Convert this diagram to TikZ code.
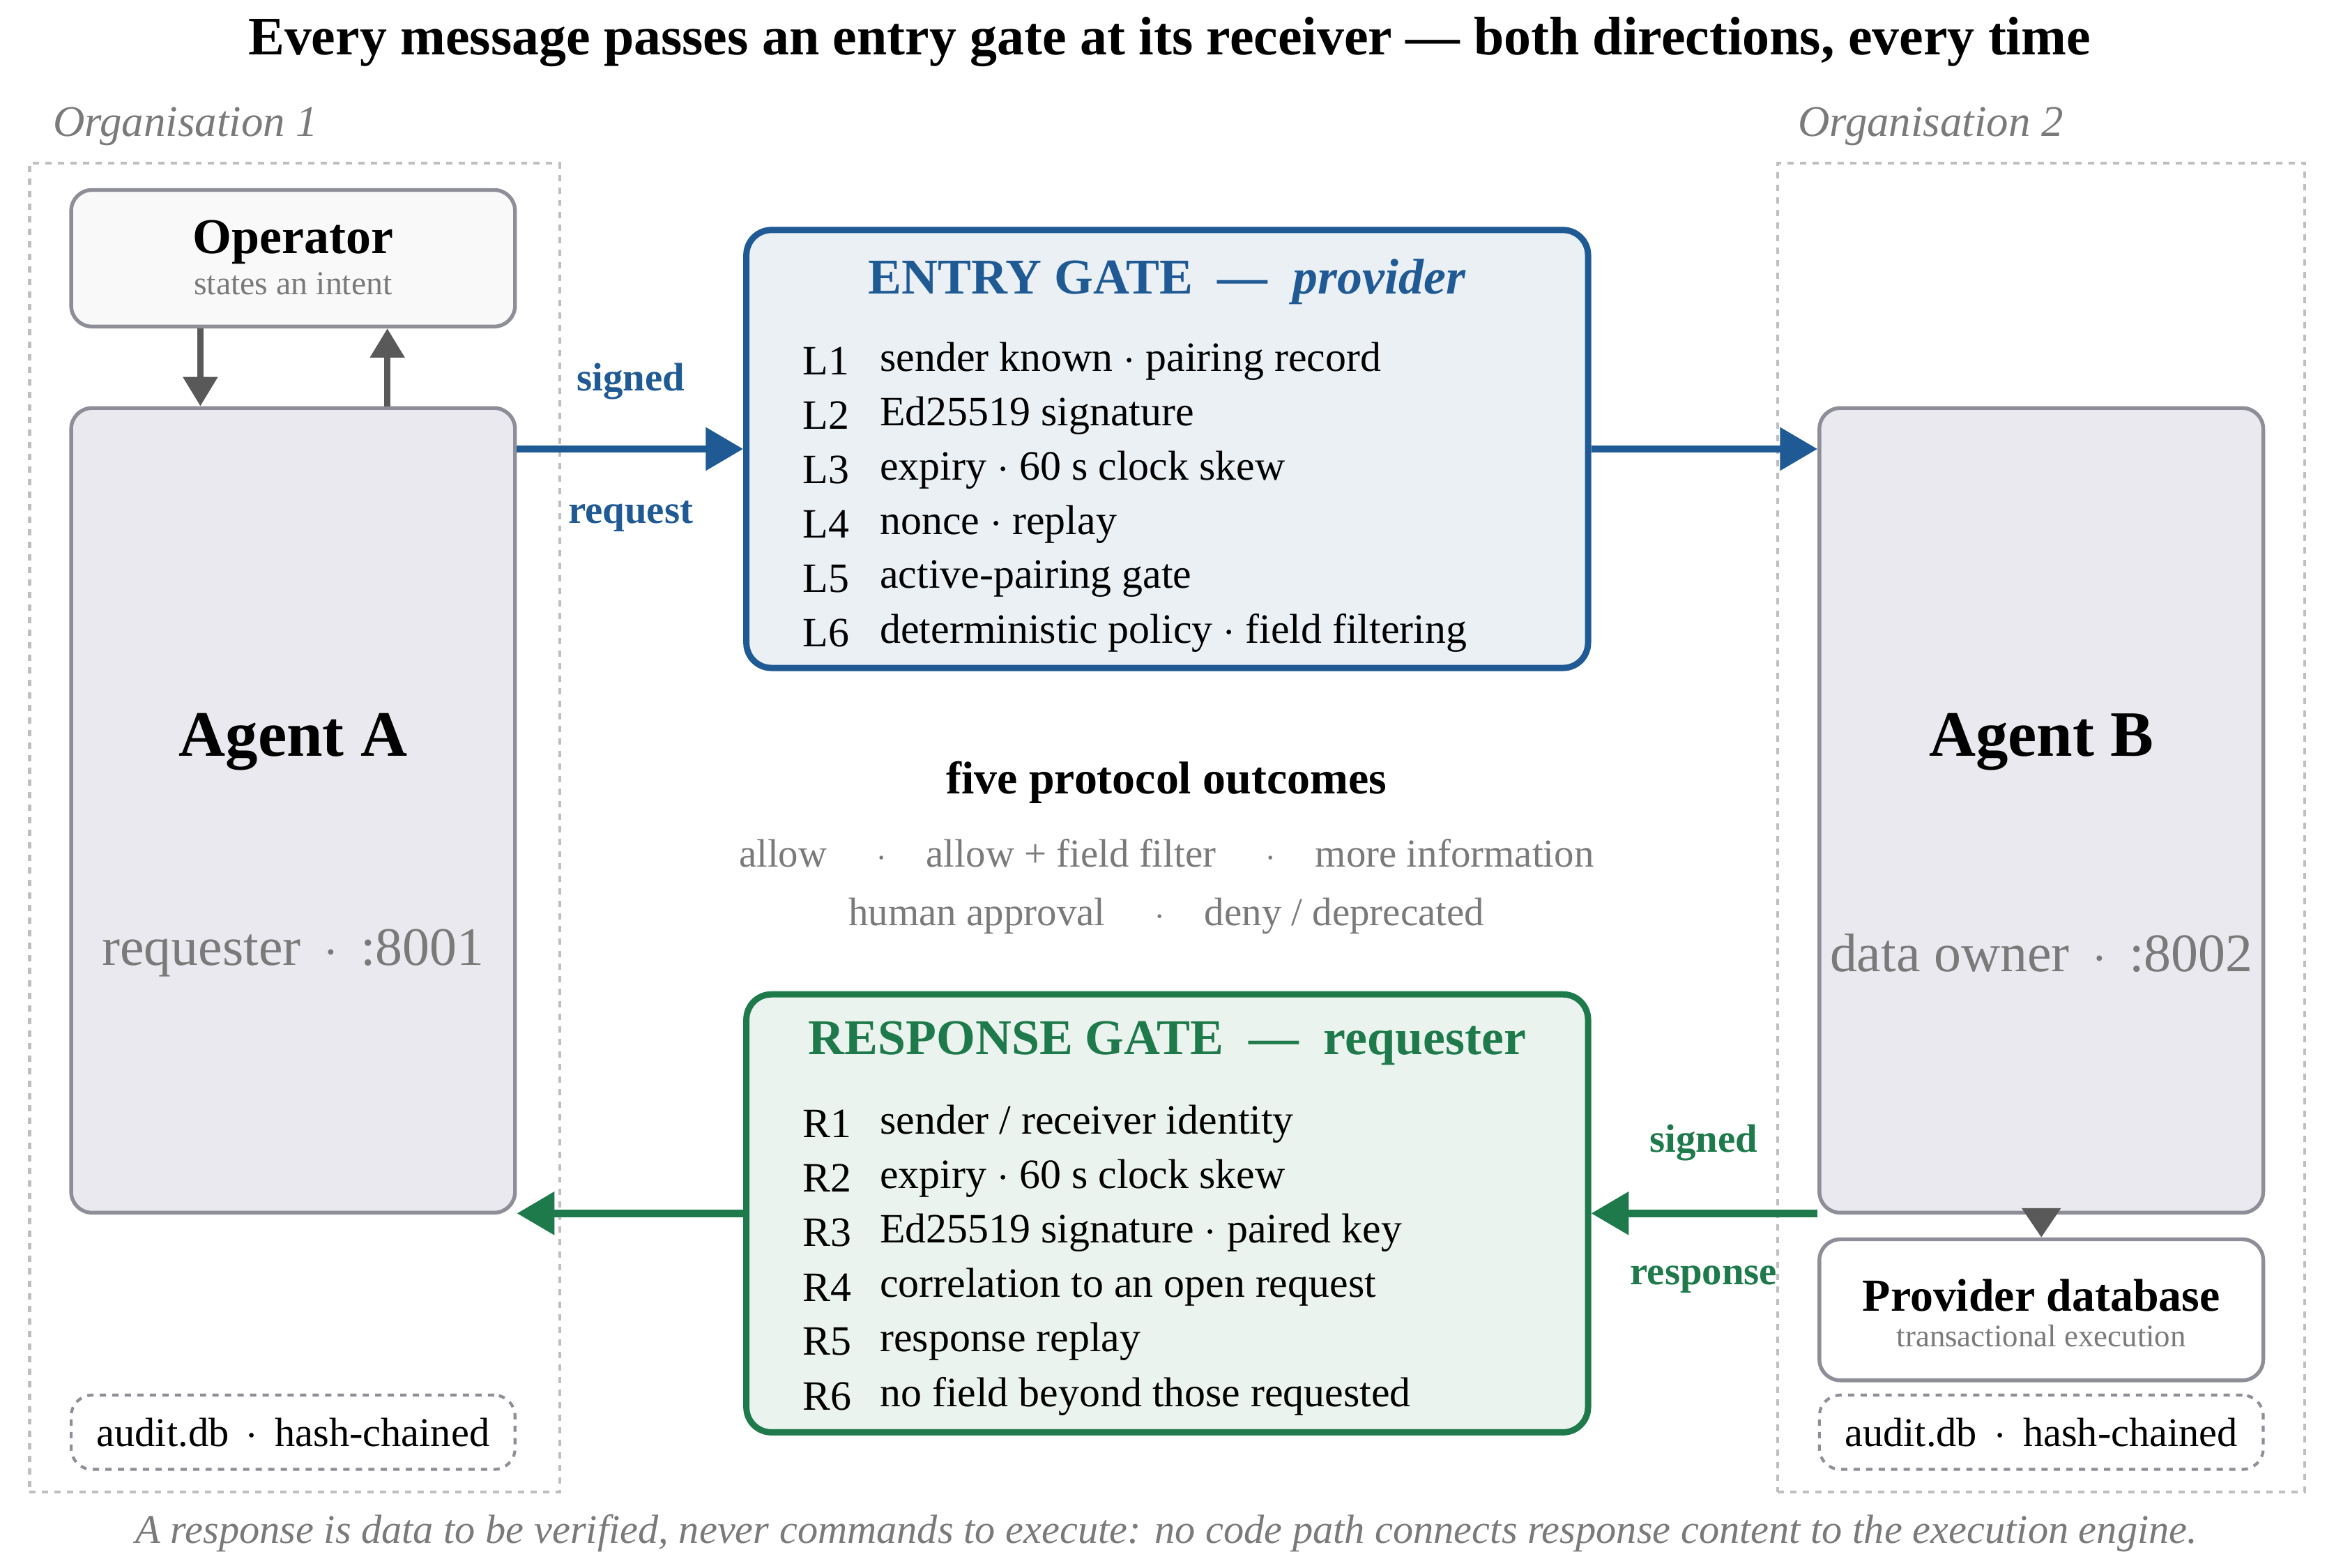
\documentclass[tikz,border=0pt]{standalone}
\usepackage{fontspec}
\setmainfont{Liberation Serif}
\usetikzlibrary{arrows.meta}

\definecolor{gateblue}{HTML}{1F5A94}
\definecolor{gategreen}{HTML}{1E7A4B}
\definecolor{boxgray}{HTML}{8E8E98}
\definecolor{agentfill}{HTML}{E9E9EF}
\definecolor{txtgray}{HTML}{7A7A7A}
\newcommand{\fs}[1]{\fontsize{#1}{#1}\selectfont}

\tikzset{
  agent/.style={draw=boxgray, line width=1.8pt, rounded corners=10pt, fill=agentfill},
  small/.style={draw=boxgray, line width=1.8pt, rounded corners=10pt, fill=gray!5},
  audit/.style={draw=boxgray, dashed, line width=1.4pt, rounded corners=10pt,
    minimum width=7.475cm, minimum height=1.25cm, font=\fs{19.5}},
  org/.style={draw=gray!50, dashed, line width=1.4pt},
  gate/.style={line width=3pt, rounded corners=12pt, minimum width=14.175cm, minimum height=7.375cm},
  flow/.style={line width=3.5pt, -{Triangle[length=18pt,width=20pt]}},
  lbl/.style={font=\fs{20}, anchor=west}
}

\begin{document}
\begin{tikzpicture}[x=0.025cm, y=-0.025cm]
	\useasboundingbox (0,0) rectangle (1568,1056);
	\node[font=\bfseries\fs{26}] (title) at (788,28) {Every message passes an entry gate at its receiver --- both directions, every time};
	% organisations
	\node[org, minimum width=8.925cm, minimum height=22.375cm] (org1) at (198.5,557.5) {};
	\node[org, minimum width=8.875cm, minimum height=22.375cm] (org2) at (1375.5,557.5) {};
	\node[font=\itshape\fs{21}, text=txtgray] (org1lbl) at (125,85) {Organisation 1};
	\node[font=\itshape\fs{21}, text=txtgray] (org2lbl) at (1301,85) {Organisation 2};
	% left side
	\node[small, minimum width=7.475cm, minimum height=2.3cm] (operator) at (197.5,174) {};
	\node[font=\bfseries\fs{24}] at (197.5,163) {Operator};
	\node[font=\fs{16}, text=txtgray] at (197.5,191) {states an intent};
	\node[agent, minimum width=7.475cm, minimum height=13.55cm] (agentA) at (197.5,546) {};
	\node[font=\bfseries\fs{31}] at (197.5,500) {Agent A};
	\node[font=\fs{26}, text=txtgray] at (197.5,642) {requester \,$\cdot$\, :8001};
	\node[audit] (auditA) at (197.5,965) {audit.db \,$\cdot$\, hash-chained};
	\draw[line width=3pt, draw=gray!70!black, -{Triangle[length=14pt,width=16pt]}] (operator.south -| 135,0) -- (agentA.north -| 135,0);
	\draw[line width=3pt, draw=gray!70!black, -{Triangle[length=14pt,width=16pt]}] (agentA.north -| 261,0) -- (operator.south -| 261,0);
	% right side
	\node[agent, minimum width=7.475cm, minimum height=13.55cm] (agentB) at (1375.5,546) {};
	\node[font=\bfseries\fs{31}] at (1375.5,500) {Agent B};
	\node[font=\fs{26}, text=txtgray] at (1375.5,642) {data owner \,$\cdot$\, :8002};
	\node[small, fill=white, minimum width=7.475cm, minimum height=2.375cm] (provider) at (1375.5,882.5) {};
	\node[font=\bfseries\fs{22}] at (1375.5,873) {Provider database};
	\node[font=\fs{15}, text=txtgray] at (1375.5,900) {transactional execution};
	\node[audit] (auditB) at (1375.5,965) {audit.db \,$\cdot$\, hash-chained};
	\draw[line width=3pt, draw=gray!70!black, -{Triangle[length=14pt,width=18pt]}] (agentB.south) -- (provider.north);
	% entry gate
	\node[gate, draw=gateblue, fill=gateblue!9] (entry) at (786.5,302.5) {};
	\node[font=\bfseries\fs{24}, text=gateblue] at (786.5,190) {ENTRY GATE \ --- \ \textit{provider}};
	\foreach \i/\t [count=\n] in {L1/{sender known $\cdot$ pairing record}, L2/{Ed25519 signature},
	  L3/{expiry $\cdot$ 60 s clock skew}, L4/{nonce $\cdot$ replay}, L5/{active-pairing gate},
	  L6/{deterministic policy $\cdot$ field filtering}} {
		\node[lbl] at (536,206.5+36.7*\n) {\i};
		\node[lbl] at (588,206.5+36.7*\n) {\t};
	}
	% response gate
	\node[gate, draw=gategreen, fill=gategreen!9] (resp) at (786.5,817.5) {};
	\node[font=\bfseries\fs{24}, text=gategreen] at (786.5,703) {RESPONSE GATE \ --- \ requester};
	\foreach \i/\t [count=\n] in {R1/{sender / receiver identity}, R2/{expiry $\cdot$ 60 s clock skew},
	  R3/{Ed25519 signature $\cdot$ paired key}, R4/{correlation to an open request},
	  R5/{response replay}, R6/{no field beyond those requested}} {
		\node[lbl] at (536,720.5+36.7*\n) {\i};
		\node[lbl] at (588,720.5+36.7*\n) {\t};
	}
	% outcomes
	\node[font=\bfseries\fs{22}] (outcomes) at (786,527) {five protocol outcomes};
	\node[font=\fs{19}, text=txtgray] at (786,575) {allow \quad$\cdot$\quad allow + field filter \quad$\cdot$\quad more information};
	\node[font=\fs{19}, text=txtgray] at (786,617) {human approval \quad$\cdot$\quad deny / deprecated};
	% flows
	\draw[flow, draw=gateblue] (agentA.east |- entry.west) -- (entry.west);
	\draw[flow, draw=gateblue] (entry.east) -- (agentB.west |- entry.east);
	\draw[flow, draw=gategreen] (agentB.west |- resp.east) -- (resp.east);
	\draw[flow, draw=gategreen] (resp.west) -- (agentA.east |- resp.west);
	\node[font=\bfseries\fs{19}, text=gateblue] at (425,257) {signed};
	\node[font=\bfseries\fs{19}, text=gateblue] at (425,348) {request};
	\node[font=\bfseries\fs{19}, text=gategreen] at (1148,770) {signed};
	\node[font=\bfseries\fs{19}, text=gategreen] at (1148,862) {response};
	\node[font=\itshape\fs{19.5}, text=txtgray] (footer) at (786,1033) {A response is data to be verified, never commands to execute: no code path connects response content to the execution engine.};
\end{tikzpicture}
\end{document}
